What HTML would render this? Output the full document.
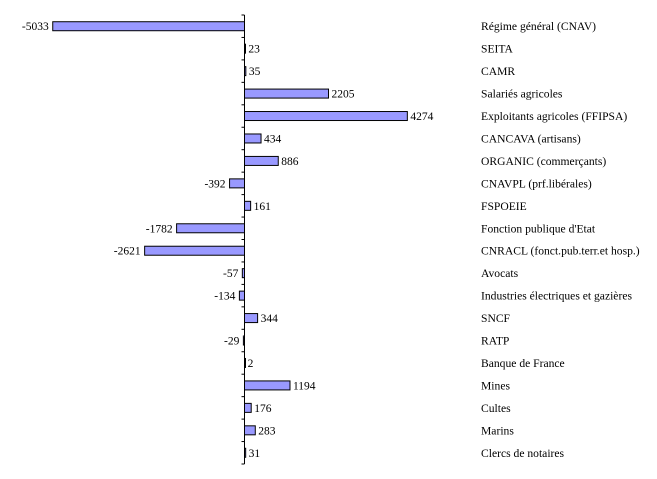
<!DOCTYPE html>
<html><head><meta charset="utf-8"><style>
body{margin:0;background:#fff}
svg{display:block;font-family:"Liberation Serif",serif}
</style></head><body>
<svg id="c" width="657" height="479"></svg>
<script>
const categories=["Régime général (CNAV)","SEITA","CAMR","Salariés agricoles","Exploitants agricoles (FFIPSA)","CANCAVA (artisans)","ORGANIC (commerçants)","CNAVPL (prf.libérales)","FSPOEIE","Fonction publique d'Etat","CNRACL (fonct.pub.terr.et hosp.)","Avocats","Industries électriques et gazières","SNCF","RATP","Banque de France","Mines","Cultes","Marins","Clercs de notaires"];
const values=[-5033,23,35,2205,4274,434,886,-392,161,-1782,-2621,-57,-134,344,-29,2,1194,176,283,31];
const NS="http://www.w3.org/2000/svg";
const svg=document.getElementById('c');
const x0=244.5,scale=0.0381,top0=15,band=22.45;
const xs=v=>x0+v*scale;
const ys=i=>top0+i*band;
function mk(t,a){const e=document.createElementNS(NS,t);for(const k in a)e.setAttribute(k,a[k]);svg.appendChild(e);return e;}
values.forEach((v,i)=>{
  const yc=ys(i)+band/2;
  const r=mk('rect',{x:Math.min(xs(0),xs(v)),y:yc-4.5,width:Math.max(Math.abs(xs(v)-xs(0)),1),height:9,fill:'#9999ff',stroke:'#000','stroke-width':1});
  
  
  const t=mk('text',{x:v<0?xs(v)-4:xs(v)+3,y:yc+4,'font-size':11.5,'text-anchor':v<0?'end':'start'});
  t.textContent=v;
  
  
  const c=mk('text',{x:481,y:yc+4,'font-size':11.6});
  c.textContent=categories[i];
  
  
});
const ax=mk('line',{x1:x0,x2:x0,y1:top0,y2:ys(categories.length),stroke:'#000','stroke-width':1});


for(let i=0;i<=categories.length;i++){
  const tk=mk('line',{x1:x0-3,x2:x0,y1:ys(i),y2:ys(i),stroke:'#000','stroke-width':1});
  
  
}
</script>
</body></html>
